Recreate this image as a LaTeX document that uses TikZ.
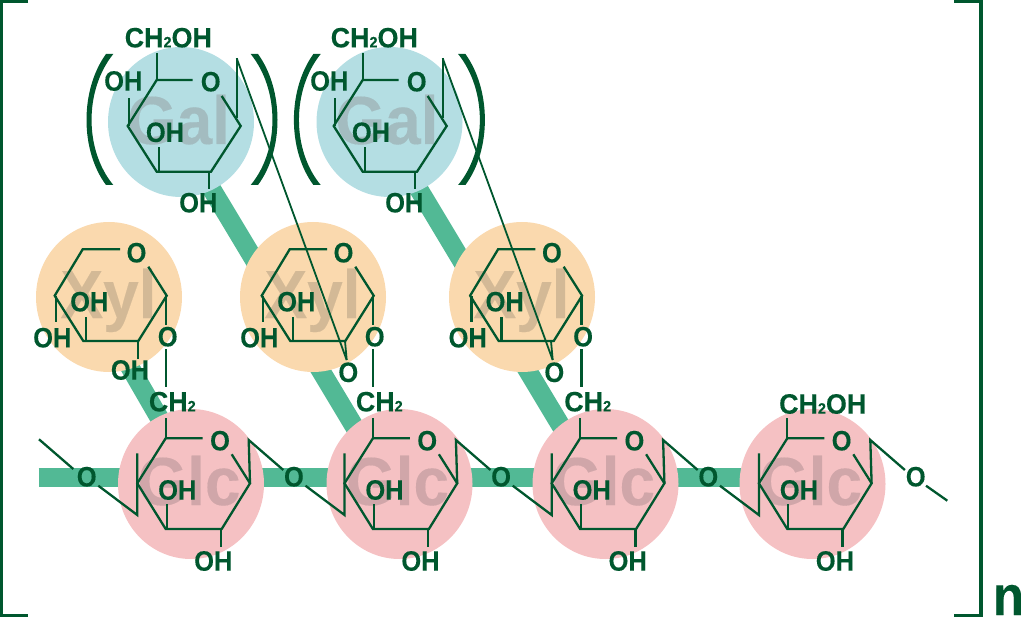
\documentclass[tikz,border=0pt]{standalone}
\usepackage{fontspec}
\setmainfont{Liberation Sans}
\newfontfamily\sugarfont[FakeStretch=0.94,FakeBold=0.2]{Liberation Sans Bold}
\newfontfamily\chemfont[FakeStretch=0.91,FakeBold=0.2]{Liberation Sans Bold}
\newfontfamily\widefont[FakeStretch=0.96,FakeBold=0.2]{Liberation Sans Bold}
\definecolor{leaf}{HTML}{00572E}
\definecolor{strip}{HTML}{52B995}
\definecolor{galfill}{HTML}{B4DEE3}
\definecolor{xylfill}{HTML}{FAD9AE}
\definecolor{glcfill}{HTML}{F5C1C3}
\definecolor{galtext}{HTML}{A3BCC0}
\definecolor{xyltext}{HTML}{D3B996}
\definecolor{glctext}{HTML}{D0A6A9}
\newcommand{\twosub}{{\fontsize{15}{15}\selectfont 2}}
\tikzset{
	bond/.style={draw=leaf,line width=2.3pt},
	chem/.style={text=leaf,inner sep=0pt,font=\fontsize{28}{28}\chemfont},
	chemwide/.style={text=leaf,inner sep=0pt,font=\fontsize{28}{28}\widefont},
	sugar/.style={anchor=base,inner sep=0pt,font=\fontsize{68}{68}\sugarfont},
	spine/.style={draw=strip,line width=19pt},
	edge bracket/.style={draw=leaf,line width=3.4pt}
}
\begin{document}
\begin{tikzpicture}[x=1pt,y=-1pt]
	\useasboundingbox (0,0) rectangle (1024,617);
	% linkage strips behind the rings
	\draw[spine] (38.7,477.2)--(760,477.2);
	\draw[spine] (120,350)--(175,445);
	\foreach \dx in {0,207}
		\draw[spine] (205+\dx,178)--(375+\dx,461);
	% outer brackets
	\draw[edge bracket] (28,1.7)--(1.7,1.7)--(1.7,615.3)--(28,615.3);
	\draw[edge bracket] (954,1.7)--(981,1.7)--(981,615.3)--(954,615.3);
	\node[chem,anchor=base,font=\fontsize{56}{56}\chemfont] (repeat) at (1008.5,615) {n};
	% Glc rings
	\foreach \n/\gx/\dx in {1/191/0,2/399.5/207.2,3/605.5/414.4,4/812.5/621.6}{
		\fill[glcfill] (\gx,484) ellipse (73 and 75);
		\node[sugar,text=glctext] (glc\n) at (\gx-2,505) {Glc};
		\begin{scope}[xshift=\dx pt]
			\draw[bond] (202.7,438.3)--(165.7,438.3)--(137.3,483.3)--(165.7,529)--(221.7,529)--(250,483.3)--(231.7,454.3);
			\draw[bond] (165.7,438.3)--(165.7,418.3);
			\draw[bond] (166.7,529)--(166.7,504.3);
			\draw[bond] (221,529)--(221,546.7);
			\draw[bond] (137.3,453.3)--(137.3,515)--(98.3,485.7);
			\draw[bond] (250,483.3)--(248.7,440)--(283.3,470);
			\node[chem] (glcring\n) at (220,440.7) {O};
			\node[chem] (glcin\n) at (177.3,490) {OH};
			\node[chem] (glcout\n) at (213.3,561) {OH};
			\node[chem] (glcleft\n) at (86.7,476.7) {O};
		\end{scope}
	}
	\draw[bond] (39,439.3)--(73.3,469);
	\draw[bond] (926,485.7)--(947.3,500.7);
	\node[chem] (glcend) at (915.7,476.7) {O};
	\node[chemwide] (glctop) at (822.7,404) {CH\twosub OH};
	% Xyl rings
	\foreach \n/\gx/\dx in {1/109/0,2/313/207,3/522/415.4}{
		\fill[xylfill] (\gx,297) ellipse (73 and 75);
		\node[sugar,text=xyltext] (xyl\n) at (\gx-.5,318) {Xyl};
		\begin{scope}[xshift=\dx pt]
			\draw[bond] (120,249.3)--(82.7,249.3)--(54.7,295.7)--(83.3,341)--(138.3,341)--(166.7,295.7)--(148.3,266.7);
			\draw[bond] (56,295.7)--(56,321.7);
			\draw[bond] (86,341)--(86,317.3);
			\draw[bond] (166,295.7)--(166,325);
			\draw[bond] (166,349.3)--(166,386.7);
			\node[chem] (xylring\n) at (136.5,252.7) {O};
			\node[chem] (xylleft\n) at (52.3,337.7) {OH};
			\node[chem] (xylin\n) at (89.3,301.7) {OH};
			\node[chem] (xylo\n) at (167.7,336.7) {O};
			\node[chemwide] (xylch\n) at (172.3,401.7) {CH\twosub};
		\end{scope}
	}
	\draw[bond] (137.7,341)--(137.7,359);
	\node[chem] (xylout) at (130,370) {OH};
	% Gal rings, each with its long bond into the Xyl below
	\foreach \n/\gx/\dx/\sx in {1/181/0/0,2/389.5/206/207.4}{
		\fill[galfill] (\gx,122) ellipse (73 and 75);
		\node[sugar,text=galtext] (gal\n) at (\gx-2.5,144) {Gal};
		\begin{scope}[xshift=\dx pt]
			\draw[bond] (192.7,80)--(156.7,80)--(127.7,126)--(156.7,171.7)--(211,171.7)--(240.7,126)--(221.7,96);
			\draw[bond] (157.3,80)--(157.3,52.7);
			\draw[bond] (129.3,126)--(129.3,98.3);
			\draw[bond] (159,171.7)--(159,146.7);
			\draw[bond] (209.3,171.7)--(209.3,189.3);
			\draw[bond] (236.7,118.3)--(236.7,58.3);
			\node[chemwide] (galtop\n) at (168.3,37.7) {CH\twosub OH};
			\node[chem] (galring\n) at (210.7,81.7) {O};
			\node[chem] (galleft\n) at (123.3,81) {OH};
			\node[chem] (galin\n) at (165,132.3) {OH};
			\node[chem] (galout\n) at (198.3,202.7) {OH};
		\end{scope}
		\begin{scope}[xshift=\dx pt]
			\draw[bond,line width=1.8pt] (236.7,58.3)--(346.7,360);
			\draw[bond,line width=1.8pt] (345,341)--(346.7,360);
			\node[chem] (xylbelow\n) at (348.3,372.3) {O};
		\end{scope}
		\begin{scope}[xshift=\sx pt]
			\fill[leaf] (106,54) .. controls (80,90) and (80,150) .. (106,185)--(113.3,185) .. controls (84.3,150) and (84.3,90) .. (113.3,54)--cycle;
		\end{scope}
		\begin{scope}[xshift=364pt+\sx pt,xscale=-1]
			\fill[leaf] (106,54) .. controls (80,90) and (80,150) .. (106,185)--(113.3,185) .. controls (84.3,150) and (84.3,90) .. (113.3,54)--cycle;
		\end{scope}
	}
\end{tikzpicture}
\end{document}
